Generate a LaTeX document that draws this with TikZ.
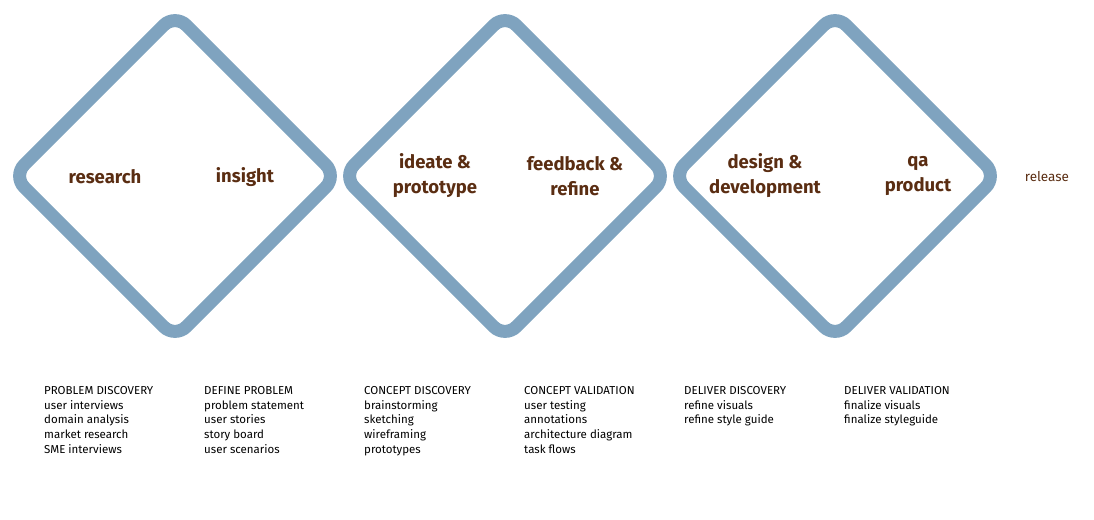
\documentclass[tikz,border=0pt]{standalone}
\usepackage{fontspec}
\setmainfont{Fira Sans}
\begin{document}
\begin{tikzpicture}[x=1pt,y=-1pt,
  dia/.style={draw=diab,line width=13pt,rounded corners=16pt},
  lab/.style={text=labc,font=\fontsize{18.5}{25}\selectfont\bfseries,align=center},
  lst/.style={anchor=north west,font=\fontsize{11.5}{14.8}\selectfont,align=left,inner sep=0pt}]
\definecolor{diab}{HTML}{7FA3BF}
\definecolor{labc}{HTML}{5A2D12}
\useasboundingbox (0,0) rectangle (1094,519);
\foreach \c/\n in {175/d1,505/d2,835/d3}{
  \draw[dia] (\c-162,176) -- (\c,14) -- (\c+162,176) -- (\c,338) -- cycle;
}
\node[lab] (research) at (105,177) {research};
\node[lab] (insight) at (245,177) {insight};
\node[lab] (ideate) at (435,176) {ideate \&\\prototype};
\node[lab] (feedback) at (575,176) {feedback \&\\refine};
\node[lab] (design) at (765,176) {design \&\\development};
\node[lab] (qa) at (918,176) {qa\\product};
\node[text=labc,font=\fontsize{13.5}{16}\selectfont] (release) at (1047,177) {release};
\node[lst] (l1) at (44,386) {PROBLEM DISCOVERY\\user interviews\\domain analysis\\market research\\SME interviews};
\node[lst] (l2) at (204,386) {DEFINE PROBLEM\\problem statement\\user stories\\story board\\user scenarios};
\node[lst] (l3) at (364,386) {CONCEPT DISCOVERY\\brainstorming\\sketching\\wireframing\\prototypes};
\node[lst] (l4) at (524,386) {CONCEPT VALIDATION\\user testing\\annotations\\architecture diagram\\task flows};
\node[lst] (l5) at (684,386) {DELIVER DISCOVERY\\refine visuals\\refine style guide};
\node[lst] (l6) at (844,386) {DELIVER VALIDATION\\finalize visuals\\finalize styleguide};
\end{tikzpicture}
\end{document}
